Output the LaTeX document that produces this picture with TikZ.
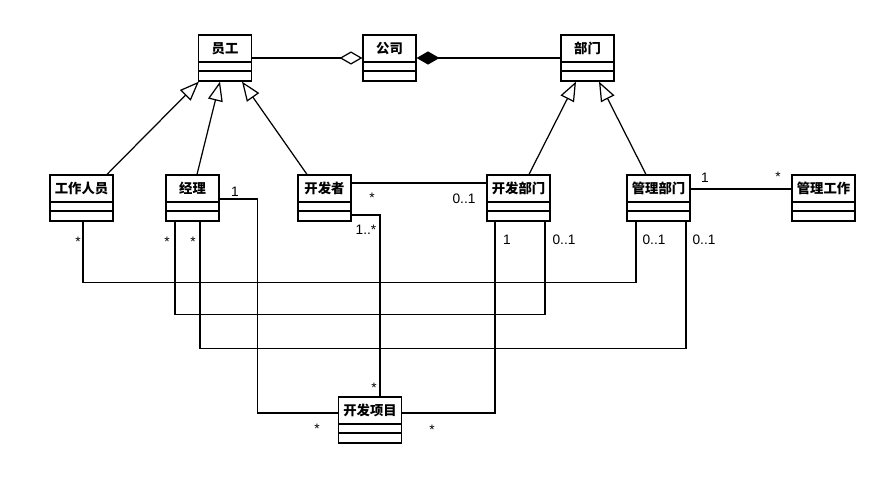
\documentclass[tikz,border=0pt]{standalone}
\usepackage{fontspec}
\setmainfont{Liberation Sans}
\newfontfamily\cjk{Noto Sans CJK SC}
\usetikzlibrary{arrows.meta}

\begin{document}
\begin{tikzpicture}[x=0.02cm, y=-0.02cm, line width=0.7pt,
  cls/.style={draw, inner xsep=0pt, inner ysep=0pt, minimum width=1.06cm,
    text height=0.37cm, text depth=0.55cm, minimum height=0.92cm,
    font=\cjk\bfseries\fontsize{7.6}{9}\selectfont,
    path picture={
      \draw ([yshift=0.38cm]path picture bounding box.south west) -- ([yshift=0.38cm]path picture bounding box.south east);
      \draw ([yshift=0.2cm]path picture bounding box.south west) -- ([yshift=0.2cm]path picture bounding box.south east);}},
  wcls/.style={cls, minimum width=1.26cm},
  gen/.style={-{Triangle[open, length=11pt, width=8.5pt]}},
  mult/.style={font=\fontsize{7.8}{9}\selectfont, inner sep=0pt}]
\path[use as bounding box, fill=white] (0,0) rectangle (890,491);
% classes
\node[cls] (yg) at (225,58){员工};
\node[cls] (gs) at (389.5,58){公司};
\node[cls] (bm) at (587.5,58){部门};
\node[wcls] (gzry) at (81.5,198){工作人员};
\node[cls] (jl) at (192.5,198){经理};
\node[cls] (kfz) at (324.5,198){开发者};
\node[wcls] (kfbm) at (518.5,198){开发部门};
\node[wcls] (glbm) at (658.5,198){管理部门};
\node[wcls] (glgz) at (823.5,198){管理工作};
\node[wcls] (kfxm) at (370,420){开发项目};
% aggregation and composition
\draw[-{Diamond[open, length=13pt, width=7.5pt]}] (yg.east) -- (gs.west);
\draw[{Diamond[length=13pt, width=7.5pt]}-] (gs.east) -- (bm.west);
% generalization
\draw[gen] ([shift={(25.5,0)}]gzry.north) -- ([shift={(1,0)}]yg.south west);
\draw[gen] ([shift={(4.5,0)}]jl.north) -- ([shift={(-5,0)}]yg.south);
\draw[gen] ([shift={(-17.5,0)}]kfz.north) -- ([shift={(17,0)}]yg.south);
\draw[gen] ([shift={(10.5,0)}]kfbm.north) -- ([shift={(-11.5,0)}]bm.south);
\draw[gen] ([shift={(-12.5,0)}]glbm.north) -- ([shift={(11.5,0)}]bm.south);
% associations
\draw ([shift={(0,-15)}]kfz.east) -- ([shift={(0,-15)}]kfbm.west);
\draw ([shift={(0,1)}]jl.east) -- ++(38,0) |- ([shift={(0,-7)}]kfxm.west);
\draw ([shift={(0,17)}]kfz.east) -| ([shift={(10,0)}]kfxm.north);
\draw ([shift={(-23.5,0)}]kfbm.south) |- ([shift={(0,-7)}]kfxm.east);
\draw ([shift={(1.5,0)}]gzry.south) -- ++(0,61) -| ([shift={(-22.5,0)}]glbm.south);
\draw ([shift={(-17.5,0)}]jl.south) -- ++(0,93) -| ([shift={(26.5,0)}]kfbm.south);
\draw ([shift={(7.5,0)}]jl.south) -- ++(0,127) -| ([shift={(27.5,0)}]glbm.south);
\draw ([shift={(0,-9)}]glbm.east) -- ([shift={(0,-9)}]glgz.west);
% multiplicities
\node[mult] (m1) at (372,198){*};
\node[mult] (m2) at (464,199){0..1};
\node[mult] (m3) at (235,192){1};
\node[mult] (m4) at (317,429){*};
\node[mult] (m5) at (366,230){1..*};
\node[mult] (m6) at (374,388){*};
\node[mult] (m7) at (507,240){1};
\node[mult] (m8) at (432,430){*};
\node[mult] (m9) at (78,242){*};
\node[mult] (m10) at (654,240){0..1};
\node[mult] (m11) at (167,242){*};
\node[mult] (m12) at (564,240){0..1};
\node[mult] (m13) at (193,242){*};
\node[mult] (m14) at (704,240){0..1};
\node[mult] (m15) at (705,178){1};
\node[mult] (m16) at (778,177){*};
\end{tikzpicture}
\end{document}
